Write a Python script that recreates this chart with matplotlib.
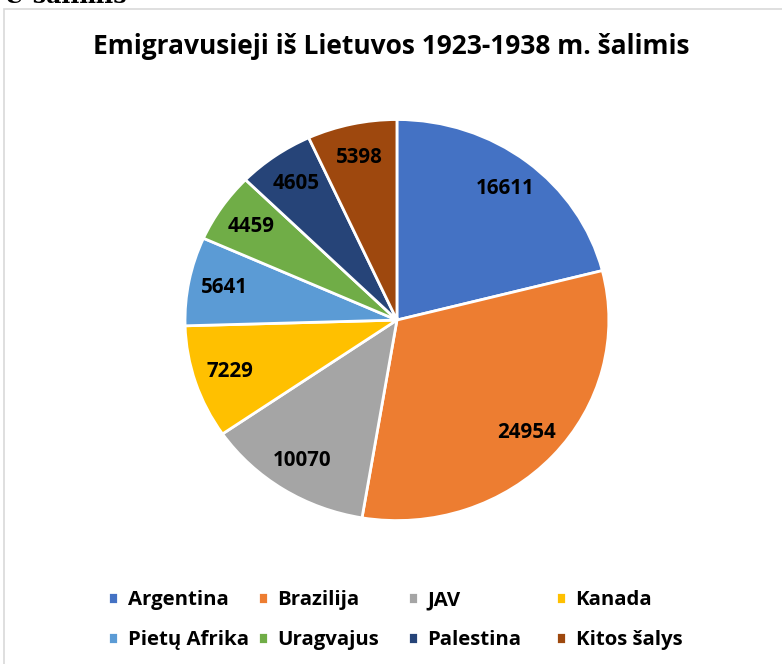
import matplotlib
matplotlib.use("Agg")
import matplotlib.pyplot as plt
from matplotlib.patches import Rectangle

plt.rcParams['font.family'] = ['Open Sans', 'DejaVu Sans']

salys = ['Argentina', 'Brazilija', 'JAV', 'Kanada',
         'Pietų Afrika', 'Uragvajus', 'Palestina', 'Kitos šalys']
emigrantai = [16611, 24954, 10070, 7229, 5641, 4459, 4605, 5398]
spalvos = ['#4472C4', '#ED7D31', '#A5A5A5', '#FFC000',
           '#5B9BD5', '#70AD47', '#264478', '#9E480E']

fig = plt.figure(figsize=(7.82, 6.64), dpi=100)

# remelis aplink diagrama
fig.patches.append(Rectangle((4 / 782, -0.01), 1.0, 1 - 9 / 664 + 0.01,
                             transform=fig.transFigure, fill=False,
                             edgecolor='#d9d9d9', linewidth=1.2))
# nukirpta dokumento antraste virsuje
fig.text(0.005, 1 - 8 / 664, 'Ū šalimis', family='DejaVu Serif', weight='bold',
         fontsize=17, ha='left', va='bottom')

ax = fig.add_axes([0.2366, 0.216, 0.542, 0.604])
wedges, texts = ax.pie(emigrantai, colors=spalvos, startangle=90, counterclock=False,
                       labels=[str(v) for v in emigrantai], labeldistance=0.83,
                       wedgeprops=dict(edgecolor='white', linewidth=2),
                       textprops=dict(fontsize=14.8, weight='bold', color='black',
                                      ha='center', va='center'))
ax.set_aspect('auto')
ax.set_xlim(-1.0, 1.0)
ax.set_ylim(-1.0, 1.0)
ax.axis('off')

fig.text(0.5, 1 - 46 / 664, 'Emigravusieji iš Lietuvos 1923-1938 m. šalimis',
         ha='center', va='center', fontsize=19, weight='bold')

# legenda - keturi stulpeliai
stulp_x = [98, 248, 398, 546]
for k in range(4):
    h = [wedges[k], wedges[k + 4]]
    l = [salys[k], salys[k + 4]]
    fig.legend(h, l, loc='upper left', bbox_to_anchor=(stulp_x[k] / 782, 1 - 580 / 664),
               frameon=False, handlelength=0.5, handleheight=0.5, handletextpad=0.45,
               labelspacing=0.98, borderpad=0, prop=dict(size=14.7, weight='bold'))

fig.savefig('out.png', dpi=100)
